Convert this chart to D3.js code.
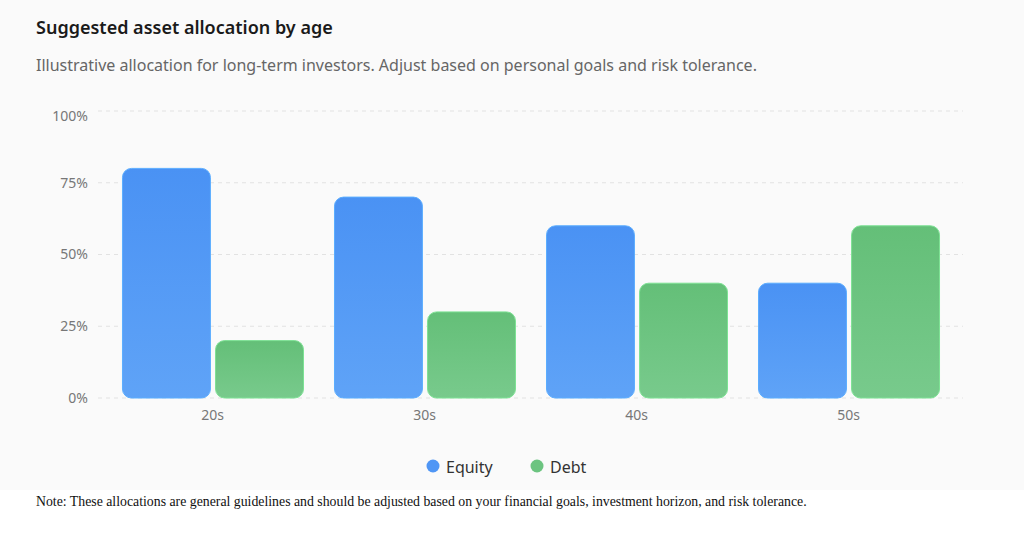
<!DOCTYPE html>
<html>
<head>
<meta charset="utf-8">
<script src="https://cdn.jsdelivr.net/npm/d3@7"></script>
<style>
  html, body { margin: 0; padding: 0; background: #fff; }
  #chart { width: 1024px; height: 490px; background: #fafafa; }
  .note { font-family: "Liberation Serif", "Times New Roman", serif; font-size: 13.8px; color: #111; margin: 4px 0 0 36px; }
</style>
</head>
<body>
<div id="chart"></div>
<div class="note">Note: These allocations are general guidelines and should be adjusted based on your financial goals, investment horizon, and risk tolerance.</div>
<script>
// Data
const ages = ["20s", "30s", "40s", "50s"];
const equity = [80, 70, 60, 40];
const debt = [20, 30, 40, 60];
const seriesNames = ["Equity", "Debt"];
const yTicks = [0, 25, 50, 75, 100];

const width = 1024, height = 490;
const font = "'Noto Sans', 'Open Sans', sans-serif";

const svg = d3.select("#chart").append("svg")
  .attr("width", width)
  .attr("height", height)
  .style("font-family", font);

// Gradients for the bars
const defs = svg.append("defs");
const gradColors = { Equity: ["#4a92f4", "#5fa3f7"], Debt: ["#64bf78", "#78ca8c"] };
seriesNames.forEach(name => {
  const g = defs.append("linearGradient")
    .attr("id", "grad-" + name)
    .attr("x1", 0).attr("y1", 0).attr("x2", 0).attr("y2", 1);
  g.append("stop").attr("offset", "0%").attr("stop-color", gradColors[name][0]);
  g.append("stop").attr("offset", "100%").attr("stop-color", gradColors[name][1]);
});
const color = d3.scaleOrdinal().domain(seriesNames).range(["#4f96f5", "#6cc480"]);

// Title and subtitle
svg.append("text")
  .attr("x", 36).attr("y", 34)
  .style("font-size", "18px").style("font-weight", 600).attr("fill", "#1a1a1a")
  .text("Suggested asset allocation by age");
svg.append("text")
  .attr("x", 36).attr("y", 71)
  .style("font-size", "16px").attr("fill", "#666")
  .text("Illustrative allocation for long-term investors. Adjust based on personal goals and risk tolerance.");

// Plot area
const plot = { left: 98, right: 963, top: 111, bottom: 398 };

const x0 = d3.scaleBand()
  .domain(ages)
  .range([plot.left, plot.right])
  .paddingInner(0)
  .paddingOuter(0.04);

const x1 = d3.scaleBand()
  .domain(seriesNames)
  .range([16, x0.bandwidth() - 15])
  .paddingInner(0.055);

const y = d3.scaleLinear().domain([0, 100]).range([plot.bottom, plot.top]);

// Gridlines
svg.append("g")
  .selectAll("line")
  .data(yTicks)
  .join("line")
  .attr("x1", plot.left).attr("x2", plot.right)
  .attr("y1", d => y(d)).attr("y2", d => y(d))
  .attr("stroke", "#e2e2e2")
  .attr("stroke-dasharray", "4,4");

// Y axis
const yAxis = svg.append("g")
  .attr("transform", `translate(${plot.left},0)`)
  .call(d3.axisLeft(y).tickValues(yTicks).tickFormat(d => d + "%").tickSize(0).tickPadding(10));
yAxis.select(".domain").remove();
yAxis.selectAll("text").style("font-size", "14px").style("font-family", font).attr("fill", "#777");
yAxis.selectAll(".tick").filter(d => d === 100).select("text").attr("dy", "0.65em");

// X axis
const xAxis = svg.append("g")
  .attr("transform", `translate(0,${plot.bottom})`)
  .call(d3.axisBottom(x0).tickSize(0).tickPadding(12));
xAxis.select(".domain").remove();
xAxis.selectAll("text").style("font-size", "14px").style("font-family", font).attr("fill", "#777");

// Bars
const rows = ages.map((age, i) => ({ age, values: [
  { key: "Equity", value: equity[i] },
  { key: "Debt", value: debt[i] }
]}));

const groups = svg.append("g")
  .selectAll("g")
  .data(rows)
  .join("g")
  .attr("transform", d => `translate(${x0(d.age)},0)`);

groups.selectAll("rect")
  .data(d => d.values)
  .join("rect")
  .attr("x", d => x1(d.key))
  .attr("y", d => y(d.value))
  .attr("width", x1.bandwidth())
  .attr("height", d => y(0) - y(d.value))
  .attr("rx", 9).attr("ry", 9)
  .attr("fill", d => `url(#grad-${d.key})`)
  .attr("stroke", d => d3.color(color(d.key)).brighter(0.4))
  .attr("stroke-width", 1);

// Legend
const legendItems = [{ name: "Equity", x: 433 }, { name: "Debt", x: 537 }];
const legend = svg.append("g").selectAll("g")
  .data(legendItems)
  .join("g")
  .attr("transform", d => `translate(${d.x},467)`);
legend.append("circle").attr("r", 6.5).attr("cy", -1).attr("fill", d => color(d.name));
legend.append("text")
  .attr("x", 13).attr("y", 6)
  .style("font-size", "16px").attr("fill", "#333")
  .text(d => d.name);
</script>
</body>
</html>
